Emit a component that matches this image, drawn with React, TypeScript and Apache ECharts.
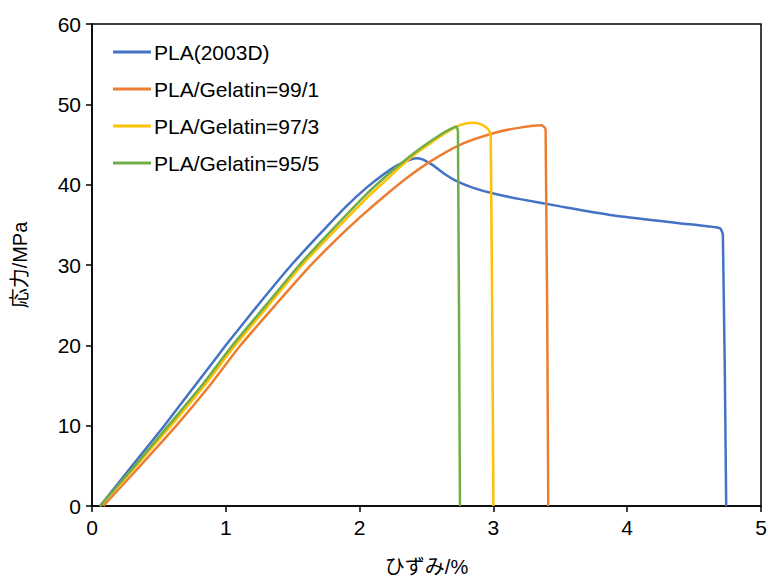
import React, { useEffect, useRef } from "react";
import * as echarts from "echarts";

const seriesNames = ["PLA(2003D)", "PLA/Gelatin=99/1", "PLA/Gelatin=97/3", "PLA/Gelatin=95/5"];
const seriesColors = ["#4472C4", "#ED7D31", "#FFC000", "#70AD47"];

const pla2003D: [number, number][] = [
  [0.06, 0], [0.3, 5], [0.54, 10], [0.77, 15], [1.0, 20], [1.24, 25], [1.49, 30], [1.7, 33.8],
  [1.9, 37.3], [2.05, 39.6], [2.18, 41.3], [2.28, 42.4], [2.36, 43.0], [2.42, 43.3], [2.47, 43.15],
  [2.55, 42.4], [2.63, 41.4], [2.73, 40.4], [2.85, 39.6], [3.0, 38.9], [3.2, 38.2], [3.5, 37.3],
  [3.89, 36.2], [4.39, 35.2], [4.69, 34.6], [4.715, 33.8], [4.74, 0],
];
const gel99: [number, number][] = [
  [0.085, 0], [0.36, 5], [0.63, 10], [0.88, 15], [1.11, 20], [1.37, 25], [1.62, 29.7], [1.84, 33.4],
  [2.0, 35.9], [2.18, 38.5], [2.35, 40.8], [2.53, 42.9], [2.77, 45.1], [3.02, 46.5], [3.2, 47.1],
  [3.36, 47.4], [3.39, 46.9], [3.41, 0],
];
const gel97: [number, number][] = [
  [0.06, 0], [0.33, 5], [0.59, 10], [0.84, 15], [1.07, 20], [1.32, 25], [1.57, 30], [1.77, 33.5],
  [2.07, 38.6], [2.2, 40.6], [2.31, 42.3], [2.43, 44.0], [2.55, 45.4], [2.64, 46.4], [2.72, 47.2],
  [2.79, 47.6], [2.86, 47.7], [2.92, 47.4], [2.96, 46.9], [2.98, 46.2], [3.0, 0],
];
const gel95: [number, number][] = [
  [0.06, 0], [0.32, 5], [0.57, 10], [0.82, 15], [1.05, 20], [1.3, 25], [1.55, 30], [1.75, 33.6],
  [2.05, 38.8], [2.18, 40.8], [2.3, 42.5], [2.42, 44.1], [2.53, 45.4], [2.62, 46.4], [2.7, 47.1],
  [2.725, 47.2], [2.735, 46.6], [2.75, 0],
];
const seriesData = [pla2003D, gel99, gel97, gel95];

const xTicks = [0, 1, 2, 3, 4, 5];
const yTicks = [0, 10, 20, 30, 40, 50, 60];

const FONT = "'Liberation Sans', Arial, 'Noto Sans CJK JP', sans-serif";

export default function App() {
  const ref = useRef<HTMLDivElement>(null);
  useEffect(() => {
    if (!ref.current) return;
    const chart = echarts.init(ref.current, null, { renderer: "svg" });
    chart.setOption({
      animation: false,
      backgroundColor: "#ffffff",
      textStyle: { fontFamily: FONT },
      grid: {
        left: 92,
        right: 7,
        top: 24,
        bottom: 74,
        containLabel: false,
        outerBoundsMode: "none",
        show: true,
        borderColor: "#000",
        borderWidth: 1.5,
      },
      legend: {
        show: true,
        orient: "vertical",
        left: 113,
        top: 41,
        padding: 0,
        itemGap: 15,
        itemWidth: 38,
        itemHeight: 3,
        icon: "rect",
        textStyle: { fontSize: 21, color: "#000", fontFamily: FONT, lineHeight: 22, padding: [0, 0, 0, -2] },
        data: seriesNames,
      },
      xAxis: {
        type: "value",
        min: xTicks[0],
        max: xTicks[xTicks.length - 1],
        interval: 1,
        name: "ひずみ/%",
        nameLocation: "middle",
        nameGap: 51,
        nameTextStyle: { fontSize: 20, color: "#000", fontFamily: FONT },
        axisLine: { show: true, lineStyle: { color: "#000", width: 1.5 } },
        axisTick: { show: true, length: 6, inside: false, lineStyle: { color: "#000", width: 1.5 } },
        axisLabel: { fontSize: 21, color: "#000", margin: 11, fontFamily: FONT },
        splitLine: { show: false },
      },
      yAxis: {
        type: "value",
        min: yTicks[0],
        max: yTicks[yTicks.length - 1],
        interval: 10,
        name: "応力/MPa",
        nameLocation: "middle",
        nameGap: 62,
        nameTextStyle: { fontSize: 20, color: "#000", fontFamily: FONT },
        axisLine: { show: true, lineStyle: { color: "#000", width: 1.5 } },
        axisTick: { show: true, length: 6, inside: false, lineStyle: { color: "#000", width: 1.5 } },
        axisLabel: { fontSize: 21, color: "#000", margin: 11, fontFamily: FONT },
        splitLine: { show: false },
      },
      series: seriesNames.map((name, i) => ({
        name,
        type: "line",
        data: seriesData[i],
        smooth: 0.2,
        symbol: "none",
        showSymbol: false,
        color: seriesColors[i],
        lineStyle: { color: seriesColors[i], width: 2.5 },
        itemStyle: { color: seriesColors[i] },
      })),
    });
    return () => chart.dispose();
  }, []);
  return (
    <div
      ref={ref}
      style={{ position: "absolute", left: 0, top: 0, width: 768, height: 580, background: "#fff" }}
    />
  );
}
